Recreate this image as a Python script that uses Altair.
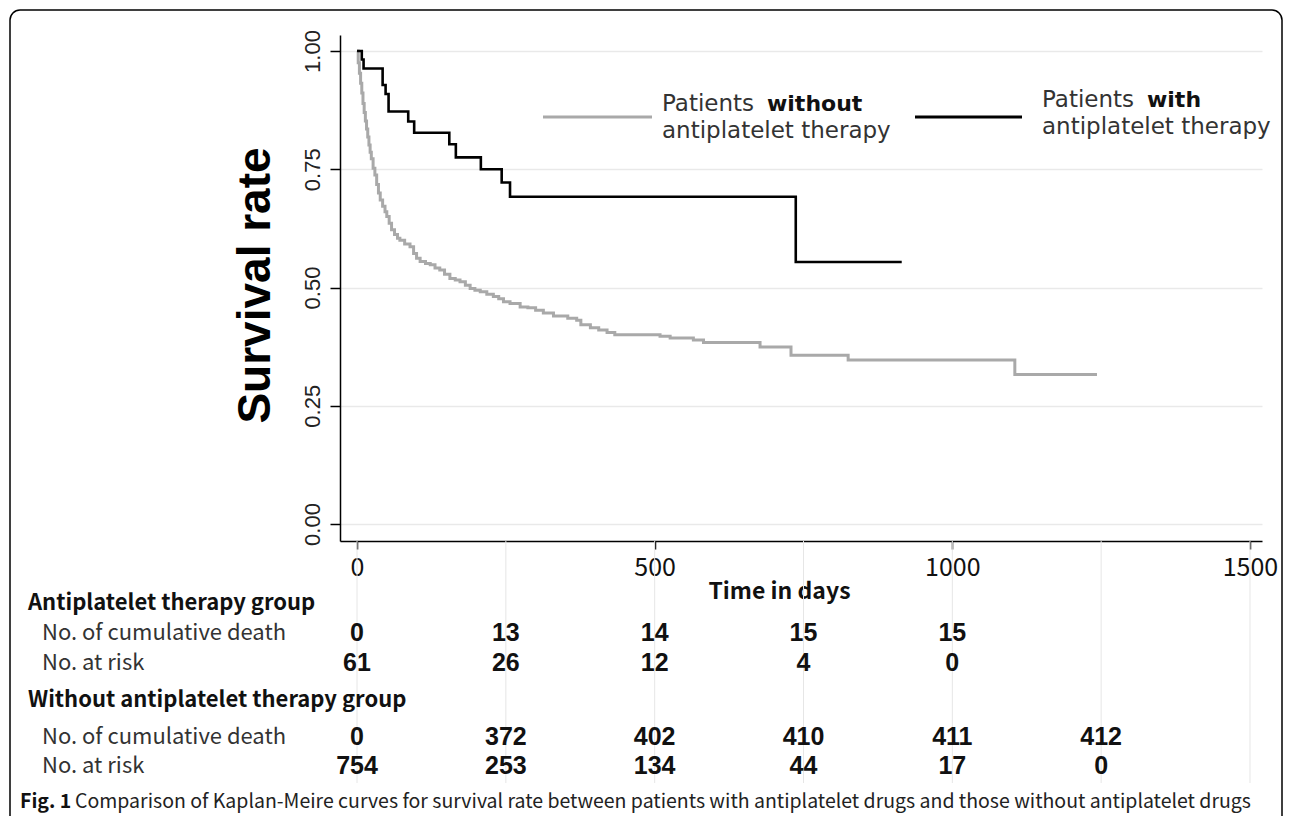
import altair as alt
import pandas as pd

# ---------------- data ----------------
# Kaplan-Meier curve, patients WITHOUT antiplatelet therapy (grey)
gray_days = [0, 2, 4, 6, 8, 10, 12, 14, 16, 18,
             20, 22, 24, 27, 30, 33, 36, 39, 43, 47,
             50, 54, 58, 63, 68, 72, 80, 89, 95, 100,
             106, 115, 123, 131, 139, 147, 156, 165, 173, 182,
             190, 198, 207, 218, 229, 238, 246, 257, 274, 287,
             300, 313, 330, 354, 369, 376, 392, 406, 420, 433,
             509, 526, 565, 582, 677, 729, 825, 1105, 1243]
gray_surv = [1.000, 0.975, 0.953, 0.932, 0.911, 0.889, 0.870, 0.852, 0.835, 0.818,
             0.801, 0.786, 0.772, 0.752, 0.738, 0.718, 0.700, 0.685, 0.672, 0.660,
             0.650, 0.636, 0.622, 0.612, 0.604, 0.600, 0.592, 0.586, 0.572, 0.562,
             0.555, 0.551, 0.548, 0.541, 0.537, 0.528, 0.519, 0.516, 0.512, 0.505,
             0.498, 0.494, 0.491, 0.486, 0.481, 0.476, 0.470, 0.466, 0.459, 0.457,
             0.452, 0.446, 0.440, 0.435, 0.431, 0.421, 0.415, 0.410, 0.405, 0.400,
             0.397, 0.393, 0.389, 0.384, 0.374, 0.357, 0.347, 0.316, 0.316]

# Kaplan-Meier curve, patients WITH antiplatelet therapy (black)
black_days = [0, 8, 11, 43, 48, 53, 86, 96, 155, 166, 208, 243, 257, 737, 915]
black_surv = [1.000, 0.982, 0.963, 0.928, 0.909, 0.872, 0.851, 0.827, 0.803,
              0.775, 0.750, 0.722, 0.692, 0.554, 0.554]

# numbers-at-risk table
table_days = [0, 250, 500, 750, 1000, 1250]
anti_deaths = [0, 13, 14, 15, 15]
anti_at_risk = [61, 26, 12, 4, 0]
without_deaths = [0, 372, 402, 410, 411, 412]
without_at_risk = [754, 253, 134, 44, 17, 0]
table_grid_days = [0, 250, 500, 750, 1000, 1250, 1500]

x_tick_values = [0, 500, 1000, 1500]
y_tick_values = [0.0, 0.25, 0.5, 0.75, 1.0]

group_titles = ["Antiplatelet therapy group", "Without antiplatelet therapy group"]
row_titles = ["No. of cumulative death", "No. at risk"]
legend_lead = "Patients"
legend_bold = ["without", "with"]
legend_second = "antiplatelet therapy"
x_title = "Time in days"
y_title = "Survival rate"
caption_bold = "Fig. 1"
caption_text = ("Comparison of Kaplan-Meire curves for survival rate between patients "
                "with antiplatelet drugs and those without antiplatelet drugs")

# ---------------- layout ----------------
W, H = 922, 506                 # plot area
PAD_L, PAD_T = 332, 27
SVG_W, SVG_H = 1276, 808
CJK = "Noto Sans CJK JP"
ARIAL = "Liberation Sans"
LEG = "DejaVu Sans"
GRAY = "#a9a9a9"


def px(x):  # page x -> plot x
    return x - 340


def py(y):  # page y -> plot y
    return y - 35


one = pd.DataFrame({"k": [0]})

x_scale = alt.Scale(domain=[-28.6, 1520.2], nice=False, zero=False)
y_scale = alt.Scale(domain=[-0.0359, 1.0338], nice=False, zero=False)

x_axis = alt.Axis(values=x_tick_values, format="d", title=x_title, grid=False,
                  labelFont=CJK, labelFontSize=25, labelColor="#111", labelPadding=6,
                  labelFlush=False, labelOverlap=False,
                  tickSize=8, tickColor="black", tickWidth=1.5,
                  domainColor="black", domainWidth=1.5,
                  titleFont=CJK, titleFontSize=23, titleFontWeight="bold", titleColor="#111",
                  titleX=px(779), titleY=50, titleAlign="center", titleBaseline="middle")

y_axis = alt.Axis(values=y_tick_values, format=".2f", title=y_title,
                  grid=True, gridColor="#e9e9e9", gridWidth=1.5,
                  labelFont=ARIAL, labelFontSize=22, labelColor="#222",
                  labelAngle=270, labelAlign="center", labelBaseline="bottom",
                  labelPadding=6, labelFlush=False, labelOverlap=False,
                  tickSize=10, tickColor="black", tickWidth=1.5,
                  domainColor="black", domainWidth=1.5,
                  titleFont=ARIAL, titleFontSize=46, titleFontWeight="bold", titleColor="black",
                  titleAngle=270, titleX=-85, titleY=py(285), titleAlign="center",
                  titleBaseline="middle")

x_enc = alt.X("day:Q", scale=x_scale, axis=x_axis)
y_enc = alt.Y("surv:Q", scale=y_scale, axis=y_axis)

layers = []

# outer figure frame (bottom edge runs off the page)
layers.append(alt.Chart(one).mark_rect(cornerRadius=10, fill="white", fillOpacity=0,
                                        stroke="black", strokeWidth=1.5).encode(
    x=alt.value(px(10)), x2=alt.value(px(1282)), y=alt.value(py(10)), y2=alt.value(py(880))))

# vertical guide lines of the table
grid_df = pd.DataFrame({"day": table_grid_days})
layers.append(alt.Chart(grid_df).mark_rule(color="#e6e6e6", strokeWidth=1).encode(
    x=x_enc, y=alt.value(H), y2=alt.value(py(783))))

# survival curves
gray_df = pd.DataFrame({"day": gray_days, "surv": gray_surv})
black_df = pd.DataFrame({"day": black_days, "surv": black_surv})
layers.append(alt.Chart(gray_df).mark_line(interpolate="step-after", color=GRAY,
                                           strokeWidth=3).encode(x=x_enc, y=y_enc))
layers.append(alt.Chart(black_df).mark_line(interpolate="step-after", color="black",
                                            strokeWidth=2.6).encode(x=x_enc, y=y_enc))

# legend (drawn by hand to allow mixed weights)
legend_specs = [
    (GRAY, 543, 652, 117, 662, 767, 111, 138, legend_bold[0]),
    ("black", 915, 1022, 117, 1042, 1147, 107, 134, legend_bold[1]),
]
for col, lx1, lx2, ly, tx, bx, b1, b2, bold_word in legend_specs:
    layers.append(alt.Chart(one).mark_rule(color=col, strokeWidth=3).encode(
        x=alt.value(px(lx1)), x2=alt.value(px(lx2)), y=alt.value(py(ly))))
    layers.append(alt.Chart(one).mark_text(text=legend_lead, font=LEG, fontSize=23,
                                           align="left", baseline="alphabetic",
                                           color="#333").encode(
        x=alt.value(px(tx)), y=alt.value(py(b1))))
    layers.append(alt.Chart(one).mark_text(text=bold_word, font=LEG, fontSize=22,
                                           fontWeight="bold", align="left",
                                           baseline="alphabetic", color="#111").encode(
        x=alt.value(px(bx)), y=alt.value(py(b1))))
    layers.append(alt.Chart(one).mark_text(text=legend_second, font=LEG, fontSize=23,
                                           align="left", baseline="alphabetic",
                                           color="#333").encode(
        x=alt.value(px(tx)), y=alt.value(py(b2))))

# table row headings
heading_specs = [
    (group_titles[0], 28, 603, True),
    (row_titles[0], 42, 633, False),
    (row_titles[1], 42, 663, False),
    (group_titles[1], 28, 700, True),
    (row_titles[0], 42, 737, False),
    (row_titles[1], 42, 766, False),
]
for label, hx, hy, is_bold in heading_specs:
    layers.append(alt.Chart(one).mark_text(text=label, font=CJK, fontSize=22,
                                           fontWeight="bold" if is_bold else "normal",
                                           align="left", baseline="middle",
                                           color="#111" if is_bold else "#333").encode(
        x=alt.value(px(hx)), y=alt.value(py(hy))))

# table numbers
number_rows = [
    (table_days[:len(anti_deaths)], anti_deaths, 633),
    (table_days[:len(anti_at_risk)], anti_at_risk, 663),
    (table_days, without_deaths, 737),
    (table_days, without_at_risk, 766),
]
for days, vals, ry in number_rows:
    df = pd.DataFrame({"day": days, "n": vals})
    layers.append(alt.Chart(df).mark_text(font=ARIAL, fontSize=25, fontWeight="bold",
                                          align="center", baseline="middle",
                                          color="#111").encode(
        x=x_enc, y=alt.value(py(ry)), text=alt.Text("n:Q", format="d")))

# caption
layers.append(alt.Chart(one).mark_text(text=caption_bold, font=CJK, fontSize=19.5,
                                       fontWeight="bold", align="left", baseline="middle",
                                       color="#111").encode(
    x=alt.value(px(20)), y=alt.value(py(802))))
layers.append(alt.Chart(one).mark_text(text=caption_text, font=CJK, fontSize=19.5,
                                       align="left", baseline="middle",
                                       color="#222").encode(
    x=alt.value(px(75)), y=alt.value(py(802))))

chart = alt.layer(*layers).properties(
    width=W, height=H,
    autosize=alt.AutoSizeParams(type="none"),
    padding={"left": PAD_L, "top": PAD_T, "right": SVG_W - PAD_L - W,
             "bottom": SVG_H - PAD_T - H},
    background="white",
).configure_view(stroke=None)

chart.save("out.html", embed_options={"renderer": "svg", "actions": False})
